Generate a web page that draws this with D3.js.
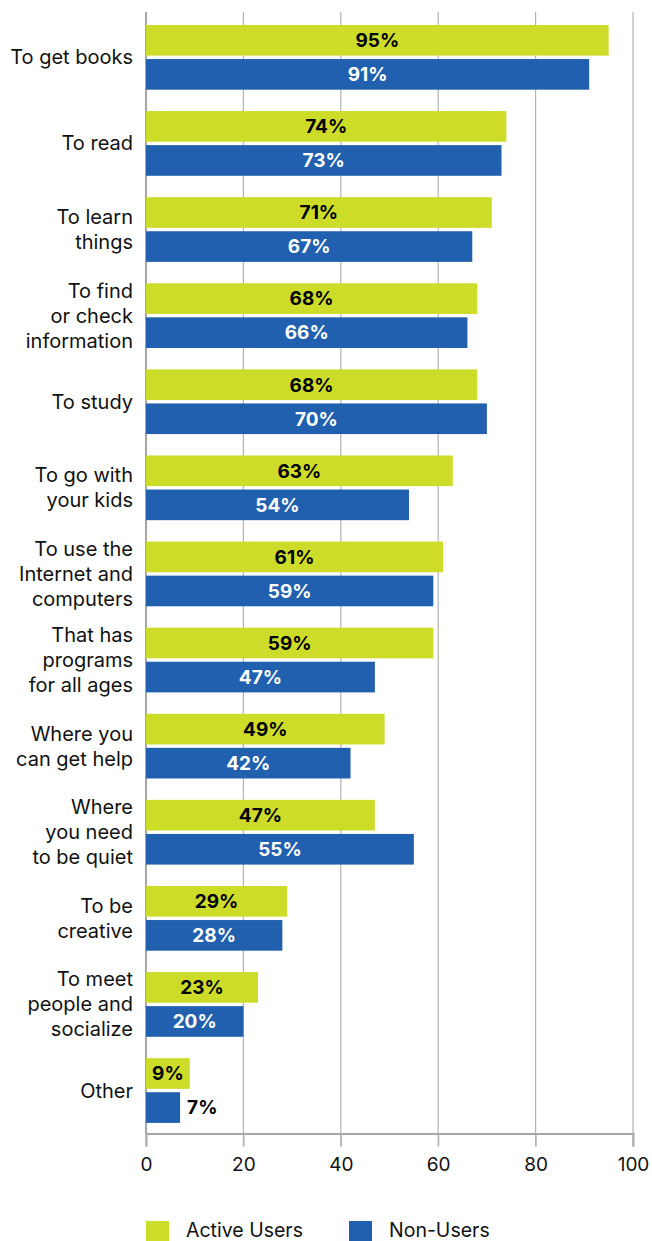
<!DOCTYPE html>
<html>
<head>
<meta charset="utf-8">
<script src="https://cdn.jsdelivr.net/npm/d3@7"></script>
<style>
  html, body { margin: 0; padding: 0; background: #fff; }
  svg { display: block; font-family: "Inter", "Lato", sans-serif; }
</style>
</head>
<body>
<svg id="chart" width="652" height="1241"></svg>
<script>
// Reasons for visiting the library, share of respondents (%)
const categories = [
  ["To get books"],
  ["To read"],
  ["To learn", "things"],
  ["To find", "or check", "information"],
  ["To study"],
  ["To go with", "your kids"],
  ["To use the", "Internet and", "computers"],
  ["That has", "programs", "for all ages"],
  ["Where you", "can get help"],
  ["Where", "you need", "to be quiet"],
  ["To be", "creative"],
  ["To meet", "people and", "socialize"],
  ["Other"]
];
const activeUsers = [95, 74, 71, 68, 68, 63, 61, 59, 49, 47, 29, 23, 9];
const nonUsers    = [91, 73, 67, 66, 70, 54, 59, 47, 42, 55, 28, 20, 7];
const seriesNames = ["Active Users", "Non-Users"];
const xTicks = [0, 20, 40, 60, 80, 100];

const colors = { "Active Users": "#cddc29", "Non-Users": "#2160ae" };
const labelColors = { "Active Users": "#000", "Non-Users": "#fff" };

const svg = d3.select("#chart");
const plotLeft = 146, plotRight = 633, plotTop = 12, plotBottom = 1133.5;

const x = d3.scaleLinear().domain([0, 100]).range([plotLeft, plotRight]);
const y0 = d3.scaleBand()
  .domain(d3.range(categories.length))
  .range([plotTop, plotBottom])
  .paddingInner(0.2485)
  .paddingOuter(0.137)
  .align(0.55);
const y1 = d3.scaleBand()
  .domain(seriesNames)
  .range([0, y0.bandwidth()])
  .paddingInner(0.1);

const rows = categories.map((c, i) => ({
  i,
  lines: c,
  values: [
    { key: "Active Users", v: activeUsers[i] },
    { key: "Non-Users", v: nonUsers[i] }
  ]
}));

// vertical gridlines
svg.append("g")
  .selectAll("line")
  .data(xTicks)
  .join("line")
  .attr("x1", d => x(d)).attr("x2", d => x(d))
  .attr("y1", plotTop).attr("y2", plotBottom + 13)
  .attr("stroke", "#b3b3b3")
  .attr("stroke-width", 1.2);

// bottom axis
const axis = svg.append("g")
  .attr("transform", `translate(0,${plotBottom})`)
  .call(d3.axisBottom(x).tickValues(xTicks).tickSize(13).tickPadding(11).tickFormat(d3.format("d")));
axis.select(".domain").attr("stroke", "#a6a6a6").attr("stroke-width", 2);
axis.selectAll(".tick line").attr("stroke", "#b3b3b3").attr("stroke-width", 1.2);
axis.selectAll(".tick text")
  .attr("font-size", 19)
  .attr("fill", "#111")
  .style("font-family", "Inter, Lato, sans-serif");

// left axis line
svg.append("line")
  .attr("x1", plotLeft).attr("x2", plotLeft)
  .attr("y1", plotTop).attr("y2", plotBottom)
  .attr("stroke", "#a6a6a6").attr("stroke-width", 2);

const groups = svg.append("g")
  .selectAll("g")
  .data(rows)
  .join("g")
  .attr("transform", d => `translate(0,${y0(d.i)})`);

groups.selectAll("rect")
  .data(d => d.values)
  .join("rect")
  .attr("x", x(0))
  .attr("y", d => y1(d.key))
  .attr("width", d => x(d.v) - x(0))
  .attr("height", y1.bandwidth())
  .attr("fill", d => colors[d.key]);

// value labels: inside the bar, or just past its end when the bar is too short
groups.selectAll("text.val")
  .data(d => d.values)
  .join("text")
  .attr("class", "val")
  .attr("x", d => d.v < 8 ? x(d.v) + 7 : (x(0) + x(d.v)) / 2)
  .attr("y", d => y1(d.key) + y1.bandwidth() / 2)
  .attr("dy", "0.36em")
  .attr("text-anchor", d => d.v < 8 ? "start" : "middle")
  .attr("font-size", 19)
  .attr("font-weight", 700)
  .attr("fill", d => d.v < 8 ? "#000" : labelColors[d.key])
  .text(d => d.v + "%");

// category labels
const lineH = 25;
groups.append("text")
  .attr("text-anchor", "end")
  .attr("font-size", 20)
  .attr("fill", "#111")
  .selectAll("tspan")
  .data(d => d.lines.map((t, j) => ({ t, j, n: d.lines.length })))
  .join("tspan")
  .attr("x", 133)
  .attr("y", d => y0.bandwidth() / 2 + (d.j - (d.n - 1) / 2) * lineH)
  .attr("dy", "0.35em")
  .text(d => d.t);

// legend
const legendItems = [
  { key: "Active Users", x: 146 },
  { key: "Non-Users", x: 349 }
];
const lg = svg.append("g")
  .selectAll("g")
  .data(legendItems)
  .join("g")
  .attr("transform", d => `translate(${d.x},1221)`);
lg.append("rect")
  .attr("width", 23).attr("height", 22)
  .attr("fill", d => colors[d.key]);
lg.append("text")
  .attr("x", 40).attr("y", 16)
  .attr("font-size", 19.5)
  .attr("fill", "#111")
  .text(d => d.key);
</script>
</body>
</html>
